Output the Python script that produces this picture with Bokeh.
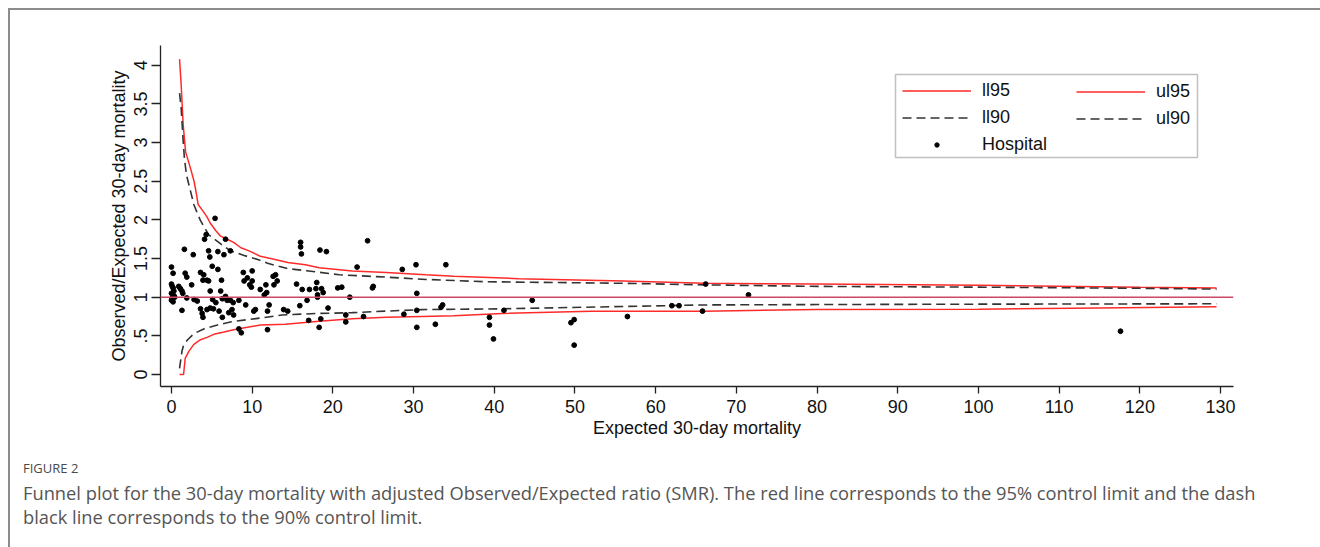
from bokeh.plotting import figure
from bokeh.models import Range1d, FixedTicker, Span, Legend, LegendItem, Div, BoxAnnotation
from bokeh.layouts import column
from bokeh.embed import file_html
from bokeh.resources import INLINE

# ---------------- data ----------------
hosp_expected = [
    0.0, 0.2, 0.0, 0.1, 0.2, 0.3, 0.0, 0.3, 0.1, 0.0, 0.2, 0.4, 0.9, 1.1, 1.3, 1.4, 1.3,
    1.6, 1.7, 1.9, 1.9, 2.5, 2.7, 2.8, 3.2,
    3.6, 4.0, 4.1, 4.3, 4.4, 4.6, 3.9, 4.6, 4.75, 5.05, 5.4, 4.8, 3.6, 3.8, 3.9, 4.4, 4.8, 5.2, 5.1, 5.5,
    5.75, 5.75, 6.1, 6.2, 6.5, 6.7, 6.3, 6.7, 6.9, 7.3, 7.3, 7.65, 5.9, 6.3, 7.1, 7.5, 7.7,
    8.35, 8.35, 8.65, 8.9, 9.0, 9.2, 9.4, 9.7, 9.9, 10.0, 10.0, 10.2, 10.4,
    11.0, 11.5, 11.7, 11.8, 11.9, 11.9, 12.1, 12.6, 12.7, 12.9, 13.1, 13.9, 14.4,
    15.5, 15.9, 16.0, 16.0, 16.1, 16.2, 16.8, 17.0, 17.1, 17.9, 18.0, 18.1, 18.1, 18.3, 18.4, 18.5, 18.6, 18.8, 19.2, 19.4,
    20.6, 21.1, 21.6, 21.6, 22.1, 23.0, 23.8, 24.3, 24.9, 25.0,
    28.6, 28.8, 30.3, 30.4, 30.4, 30.4, 32.7, 33.4, 33.6, 34.0,
    39.4, 39.4, 39.9, 41.2, 44.7, 49.5, 49.9, 49.9, 56.5, 62.0, 62.9, 65.8, 66.2, 71.5, 117.6,
]
hosp_smr = [
    1.39, 1.31, 1.17, 1.14, 1.12, 1.08, 1.05, 1.02, 0.99, 0.96, 0.94, 1.00, 1.14, 1.11, 1.08, 1.05, 0.83,
    1.62, 1.31, 1.26, 0.99, 1.16, 1.55, 0.97, 0.95,
    1.32, 1.29, 1.75, 1.81, 1.22, 1.21, 1.22, 1.60, 1.52, 1.40, 2.02, 1.08, 0.85, 0.79, 0.74, 0.84, 0.86, 0.85, 0.97, 0.93,
    1.59, 1.36, 1.08, 1.22, 1.55, 1.75, 0.98, 1.01, 0.96, 0.96, 1.60, 0.93, 0.82, 0.74, 0.80, 0.84, 0.77,
    0.96, 0.59, 0.54, 1.32, 1.21, 0.90, 1.25, 1.16, 1.13, 1.34, 1.21, 0.82, 0.84,
    1.10, 1.03, 1.16, 1.06, 0.82, 0.58, 0.90, 1.27, 1.16, 1.29, 1.21, 0.84, 0.82,
    1.17, 0.89, 1.71, 1.65, 1.56, 1.10, 0.96, 0.70, 1.10, 1.11, 1.19, 1.03, 1.00, 0.61, 1.61, 0.72, 1.11, 1.06, 1.59, 0.86,
    1.12, 1.13, 0.77, 0.68, 1.00, 1.39, 0.75, 1.73, 1.12, 1.14,
    1.36, 0.78, 1.42, 1.05, 0.83, 0.61, 0.65, 0.87, 0.90, 1.42,
    0.74, 0.64, 0.46, 0.83, 0.96, 0.67, 0.71, 0.38, 0.75, 0.89, 0.89, 0.82, 1.17, 1.03, 0.56,
]

e_ul95 = [1.0, 1.2, 1.45, 1.75, 2.35, 2.8, 3.1, 3.3, 3.8, 4.4, 4.8, 5.5, 6.1, 6.9, 7.7, 8.6, 9.6, 11, 12.7, 14.4,
          16.6, 18.3, 22.4, 26.6, 31.5, 35, 43, 56, 66, 80, 100, 120, 129.5]
ul95 = [4.08, 3.75, 3.23, 2.88, 2.67, 2.5, 2.33, 2.2, 2.13, 2.04, 1.96, 1.86, 1.79, 1.75, 1.71, 1.64, 1.6, 1.53, 1.49, 1.45,
        1.42, 1.38, 1.34, 1.32, 1.29, 1.27, 1.24, 1.21, 1.18, 1.17, 1.155, 1.13, 1.12]

e_ul90 = [1.0, 1.2, 1.45, 1.6, 1.86, 2.27, 2.77, 3.26, 3.6, 4.6, 6.1, 7.3, 9.0, 10.6, 11.9, 13.3, 14.4, 17, 20.8, 26.6,
          31.5, 39, 56, 66, 80, 100, 120, 129.5]
ul90 = [3.64, 3.45, 3.02, 2.8, 2.58, 2.41, 2.2, 2.07, 1.99, 1.81, 1.69, 1.6, 1.54, 1.49, 1.44, 1.40, 1.37, 1.34, 1.29, 1.26,
        1.23, 1.2, 1.18, 1.16, 1.14, 1.13, 1.115, 1.105]

e_ll95 = [1.0, 1.5, 1.7, 2.15, 2.77, 3.6, 4.4, 5.25, 6.5, 7.7, 9.4, 11, 14.1, 18.3, 22.4, 26.6, 31, 35, 41, 52,
          66, 80, 100, 115, 129.5]
ll95 = [0, 0, 0.21, 0.3, 0.39, 0.45, 0.48, 0.52, 0.55, 0.58, 0.61, 0.64, 0.65, 0.69, 0.72, 0.74, 0.75, 0.76, 0.79, 0.82,
        0.82, 0.84, 0.845, 0.86, 0.875]

e_ll90 = [1.0, 1.3, 1.5, 2.0, 2.8, 4.0, 5.7, 7.3, 9.4, 11, 13.7, 18.2, 22.4, 26.6, 31, 41, 56, 66, 80, 100, 129.5]
ll90 = [0.08, 0.3, 0.38, 0.45, 0.53, 0.59, 0.64, 0.68, 0.71, 0.73, 0.77, 0.79, 0.8, 0.82, 0.84, 0.85, 0.88, 0.9, 0.905,
        0.91, 0.915]

x_ticks = list(range(0, 131, 10))
y_ticks = [0, 0.5, 1, 1.5, 2, 2.5, 3, 3.5, 4]
y_tick_labels = ["0", ".5", "1", "1.5", "2", "2.5", "3", "3.5", "4"]
target_smr = 1

# ---------------- figure ----------------
FONT = "Liberation Sans"
p = figure(width=1308, height=440, output_backend="svg", toolbar_location=None,
           x_range=Range1d(-1.36, 131.6), y_range=Range1d(-0.155, 4.256),
           min_border_left=150, min_border_right=85, min_border_top=35, min_border_bottom=64,
           background_fill_color="white", border_fill_color="white")
p.outline_line_color = None
p.xgrid.visible = False
p.ygrid.visible = False

for ax in (p.xaxis[0], p.yaxis[0]):
    ax.axis_line_color = "#222222"
    ax.axis_line_width = 1.3
    ax.major_tick_line_color = "#222222"
    ax.major_tick_line_width = 1.3
    ax.major_tick_in = 0
    ax.minor_tick_line_color = None
    ax.major_label_text_font = FONT
    ax.major_label_text_font_size = "18px"
    ax.major_label_text_color = "#111111"
    ax.axis_label_text_font = FONT
    ax.axis_label_text_font_size = "18px"
    ax.axis_label_text_font_style = "normal"
    ax.axis_label_text_color = "#111111"

p.xaxis.ticker = FixedTicker(ticks=x_ticks)
p.xaxis.major_tick_out = 7
p.xaxis.major_label_standoff = 6
p.xaxis.axis_label = "Expected 30-day mortality"
p.xaxis.axis_label_standoff = 2

p.yaxis.ticker = FixedTicker(ticks=y_ticks)
p.yaxis.major_label_overrides = {t: lab for t, lab in zip(y_ticks, y_tick_labels)}
p.yaxis.major_label_orientation = "vertical"
p.yaxis.major_tick_out = 9
p.yaxis.major_label_standoff = 4
p.yaxis.axis_label = "Observed/Expected 30-day mortality"
p.yaxis.axis_label_standoff = 3

RED = "#ff2a2a"
DASH_C = "#333333"
r_ll95 = p.line(e_ll95, ll95, line_color=RED, line_width=1.5)
r_ul95 = p.line(e_ul95, ul95, line_color=RED, line_width=1.5)
r_ll90 = p.line(e_ll90, ll90, line_color=DASH_C, line_width=1.6, line_dash="9 5")
r_ul90 = p.line(e_ul90, ul90, line_color=DASH_C, line_width=1.6, line_dash="9 5")

p.add_layout(Span(location=target_smr, dimension="width", line_color="#cf4766", line_width=1.5))

r_pts = p.scatter(hosp_expected, hosp_smr, marker="circle", size=4.8, fill_color="black", line_color="black")

# legend: two columns + frame box
leg_common = dict(glyph_width=69, glyph_height=11, label_height=20, label_standoff=11, spacing=6,
                  padding=0, margin=0, border_line_color=None, background_fill_alpha=0,
                  label_text_font=FONT, label_text_font_size="18px", label_text_color="#111111")
leg1 = Legend(items=[LegendItem(label="ll95", renderers=[r_ll95]),
                     LegendItem(label="ll90", renderers=[r_ll90]),
                     LegendItem(label="Hospital", renderers=[r_pts])],
              location=(742, 231), **leg_common)
leg2 = Legend(items=[LegendItem(label="ul95", renderers=[r_ul95]),
                     LegendItem(label="ul90", renderers=[r_ul90])],
              location=(916, 257), **leg_common)
box = BoxAnnotation(left=735, right=1037, bottom=229, top=312,
                    left_units="screen", right_units="screen", top_units="screen", bottom_units="screen",
                    fill_color="white", fill_alpha=1, line_color="#333333", line_width=1.5)
p.add_layout(box)
p.add_layout(leg1)
p.add_layout(leg2)

caption_html = (
    '<div style="font-family:\'Open Sans\';color:#555555;padding-left:8px;">'
    '<div style="font-size:13px;line-height:16px;margin-top:5px;color:#4a4a4a;">FIGURE 2</div>'
    '<div style="font-size:18.3px;line-height:24px;margin-top:5px;white-space:nowrap;">'
    'Funnel plot for the 30-day mortality with adjusted Observed/Expected ratio (SMR). '
    'The red line corresponds to the 95% control limit and the dash<br>'
    'black line corresponds to the 90% control limit.</div></div>'
)
caption = Div(text=caption_html, width=1308, height=95)

layout = column(p, caption, margin=(8, 0, 0, 8),
                styles={"border-top": "2px solid #8c8c8c", "border-left": "2px solid #8c8c8c"})

open("out.html", "w").write(file_html(layout, INLINE))
